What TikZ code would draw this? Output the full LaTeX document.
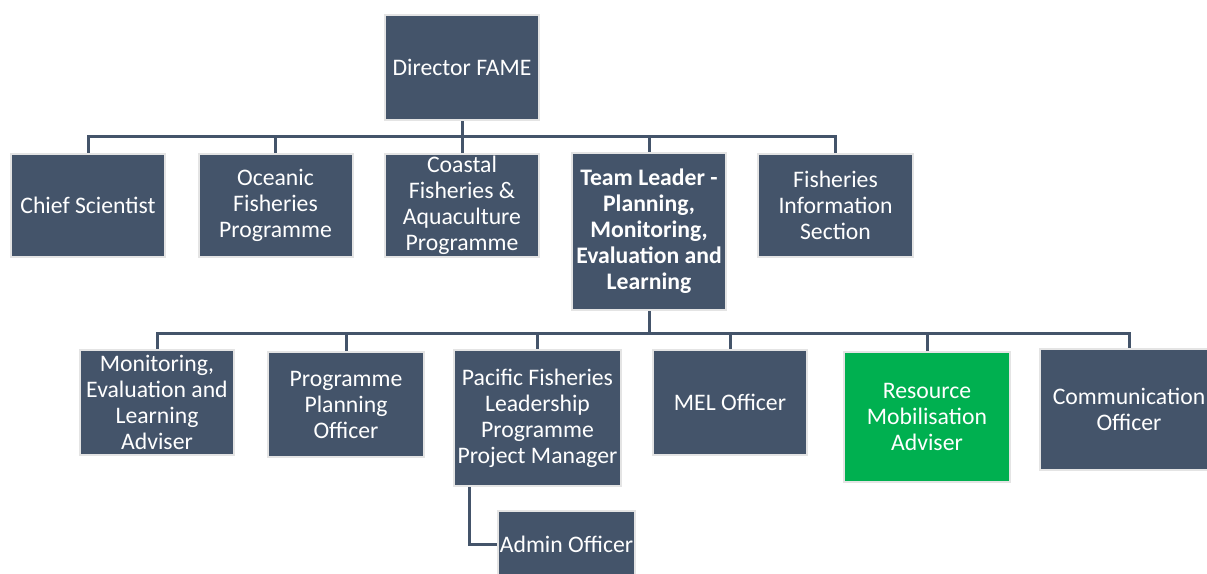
\documentclass[tikz,border=0pt]{standalone}
\usepackage{fontspec}
\setmainfont{Carlito}
\definecolor{boxblue}{HTML}{44546A}
\definecolor{boxgreen}{HTML}{00B050}
\definecolor{rim}{HTML}{E4E4E4}
\begin{document}
\begin{tikzpicture}[x=1pt,y=-1pt,
  orgbox/.style={rectangle, fill=boxblue, draw=rim, line width=2pt, text=white,
    align=center, inner sep=0pt, font=\fontsize{23.7}{26}\selectfont},
  greenbox/.style={orgbox, fill=boxgreen},
  link/.style={draw=boxblue, line width=3pt}]
\useasboundingbox (0,0) rectangle (1207,573);
% top
\node[orgbox, minimum width=154pt, minimum height=105pt] (dir) at (462,67.5) {Director FAME};
% row 1
\node[orgbox, minimum width=154pt, minimum height=103pt] (cs) at (88,205.5) {Chief Scientist};
\node[orgbox, minimum width=154pt, minimum height=103pt] (ofp) at (275.5,205.5) {Oceanic\\Fisheries\\Programme};
\node[orgbox, minimum width=154pt, minimum height=103pt] (cfa) at (462,205.5) {Coastal\\Fisheries \&\\Aquaculture\\Programme};
\node[orgbox, minimum width=154pt, minimum height=157pt, font=\fontsize{23.7}{26}\selectfont\bfseries] (tl) at (649,231.5) {Team Leader -\\Planning,\\Monitoring,\\Evaluation and\\Learning};
\node[orgbox, minimum width=155pt, minimum height=103pt] (fis) at (835.5,205.5) {Fisheries\\Information\\Section};
% row 2
\node[orgbox, minimum width=154pt, minimum height=105pt] (mela) at (157,402.5) {Monitoring,\\Evaluation and\\Learning\\Adviser};
\node[orgbox, minimum width=156pt, minimum height=105pt] (ppo) at (346,404.5) {Programme\\Planning\\Officer};
\node[orgbox, minimum width=167pt, minimum height=136pt] (pac) at (537.5,418) {Pacific Fisheries\\Leadership\\Programme\\Project Manager};
\node[orgbox, minimum width=154pt, minimum height=105pt] (melo) at (730,402.5) {MEL Officer};
\node[greenbox, minimum width=166pt, minimum height=130pt] (rma) at (927,417) {Resource\\Mobilisation\\Adviser};
\node[orgbox, minimum width=178pt, minimum height=121pt] (com) at (1129,409.5) {Communication\\Officer};
% row 3
\node[orgbox, minimum width=137pt, minimum height=66pt] (adm) at (566.5,544) {Admin Officer};
% buses
\coordinate (bus1) at (462,136);
\coordinate (bus2) at (649,333);
\draw[link] (dir.south) -- (dir.south |- bus1);
\foreach \n in {cs,ofp,cfa,tl,fis} \draw[link] (dir.south |- bus1) -| (\n.north);
\draw[link] (tl.south) -- (tl.south |- bus2);
\foreach \n in {mela,ppo,pac,melo,rma,com} \draw[link] (tl.south |- bus2) -| (\n.north);
\draw[link] ([xshift=16pt]pac.south west) |- (adm.west);
\end{tikzpicture}
\end{document}
